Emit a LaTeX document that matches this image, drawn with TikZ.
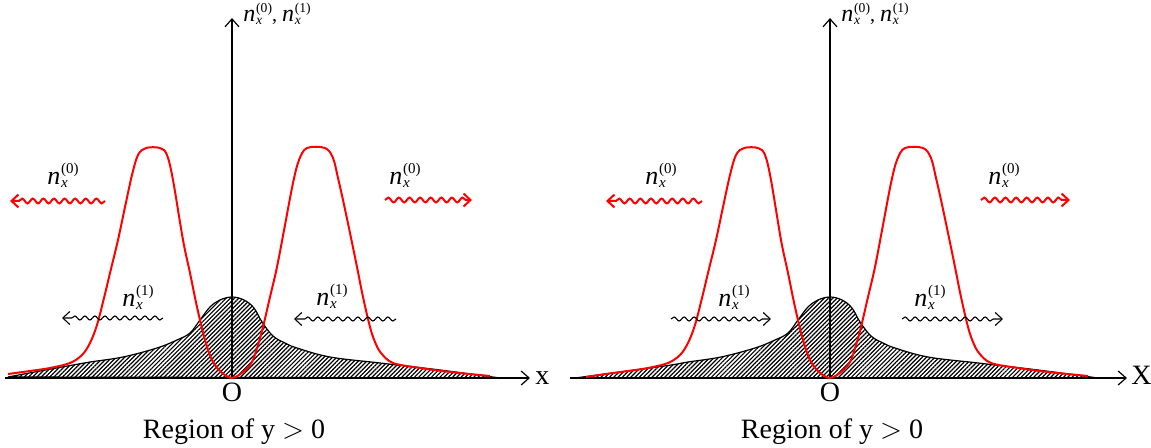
\documentclass[tikz,border=0pt]{standalone}
\usepackage{fontspec}
\setmainfont{Liberation Serif}
\usetikzlibrary{arrows.meta,patterns.meta,decorations.pathmorphing}
\newcommand{\nlabg}[4]{{\fontsize{#1}{#1}\selectfont\textit{n}}\kern0.4pt\makebox[0pt][l]{\raisebox{#3}{\fontsize{#2}{#2}\selectfont(#4)}}\makebox[0pt][l]{\raisebox{-1.2pt}{\fontsize{#2}{#2}\selectfont\textit{x}}}\hphantom{\fontsize{#2}{#2}\selectfont(0)}}
\newcommand{\nlab}[1]{\nlabg{13}{7.5}{5.5pt}{#1}}
\newcommand{\nlabs}[1]{\nlabg{12}{6.8}{4.6pt}{#1}}
\tikzset{
  hump/.style={draw=black, line width=0.6pt, pattern={Lines[angle=45,distance=1.5pt,line width=0.6pt]}, pattern color=black},
  redcurve/.style={draw=red, line width=1pt, line join=round},
  axis/.style={line width=0.6pt, -{Straight Barb[length=4pt,width=7pt]}},
  redwave/.style={draw=red, line width=1pt, decorate, decoration={snake, amplitude=1.2pt, segment length=5.3pt, post length=3pt}, -{Straight Barb[length=3.5pt,width=6.5pt]}},
  blackwave/.style={draw=black, line width=0.55pt, decorate, decoration={snake, amplitude=1pt, segment length=5pt, post length=3pt}, -{Straight Barb[length=3.5pt,width=6.5pt]}},
  lab/.style={anchor=base west, inner sep=0pt},
  txt/.style={font=\fontsize{14}{16}\selectfont, anchor=base, inner sep=0pt}
}
\begin{document}
\begin{tikzpicture}[x=0.5pt,y=-0.5pt]
\useasboundingbox (0,0) rectangle (1151,448);
\fill[white] (0,0) rectangle (1151,448);

% ---------- left panel ----------
\path[hump] plot[smooth, tension=0.6] coordinates {(8,377) (40,371) (73,365) (90,362) (123,357) (157,348) (177,340) (190,333) (200,320) (210,307) (220,300) (232,297) (244,300) (254,308) (262,322) (273,336) (285,343) (297,348) (330,357) (380,363) (440,370) (500,378)} -- cycle;

\coordinate (LxS) at (5,378);
\coordinate (LxE) at (530,378);
\coordinate (LyS) at (232,378);
\coordinate (LyE) at (232,18);
\draw[axis] (LxS) -- (LxE);
\draw[axis] (LyS) -- (LyE);

\draw[redcurve] plot[smooth, tension=0.55] coordinates {(8,374) (30,371) (50,368) (70,363) (82,355) (90,343) (97,325) (104,298) (110,273) (118,240) (125,207) (132,175) (138,155) (146,148) (160,148) (167,155) (173,180) (183,240) (190,273) (197,307) (205,340) (212,360) (221,372) (232,378) (243,372) (252,362) (258,345) (263,327) (270,297) (277,267) (285,225) (293,183) (299,160) (307,148) (325,148) (333,158) (338,178) (343,200) (350,233) (357,267) (363,297) (370,327) (375,342) (381,353) (393,363) (420,368) (450,372) (490,376)};

\coordinate (Lrw1s) at (105,201); \coordinate (Lrw1e) at (10,201);
\draw[redwave] (Lrw1s) -- (Lrw1e);
\coordinate (Lrw2s) at (385,200); \coordinate (Lrw2e) at (472,200);
\draw[redwave] (Lrw2s) -- (Lrw2e);
\coordinate (Lbw1s) at (163,318); \coordinate (Lbw1e) at (62,318);
\draw[blackwave] (Lbw1s) -- (Lbw1e);
\coordinate (Lbw2s) at (396,319); \coordinate (Lbw2e) at (294,319);
\draw[blackwave] (Lbw2s) -- (Lbw2e);

\node[lab] (Ll1) at (47,185) {\nlab{0}};
\node[lab] (Ll2) at (389,185) {\nlab{0}};
\node[lab] (Ll3) at (122,307) {\nlab{1}};
\node[lab] (Ll4) at (316,306) {\nlab{1}};
\node[lab] (Ltop) at (243,22) {\nlabs{0}, \nlabs{1}};
\node[txt, anchor=base west] (Lx) at (535,385) {x};
\node[txt] (LO) at (232,401) {O};
\node[txt] (Lreg) at (234,438) {Region of y \(>\) 0};

% ---------- right panel ----------
\path[hump] plot[smooth, tension=0.6] coordinates {(575,378) (620,372) (671,365) (688,362) (721,357) (755,348) (775,340) (788,333) (798,320) (808,307) (818,300) (830,297) (842,300) (852,308) (860,322) (871,336) (883,343) (895,348) (928,357) (978,363) (1038,370) (1098,378)} -- cycle;

\coordinate (RxS) at (570,378);
\coordinate (RxE) at (1127,378);
\coordinate (RyS) at (830,378);
\coordinate (RyE) at (830,18);
\draw[axis] (RxS) -- (RxE);
\draw[axis] (RyS) -- (RyE);

\begin{scope}[shift={(598,0)}]
\draw[redcurve] plot[smooth, tension=0.55] coordinates {(-12,377) (8,374) (30,371) (50,368) (70,363) (82,355) (90,343) (97,325) (104,298) (110,273) (118,240) (125,207) (132,175) (138,155) (146,148) (160,148) (167,155) (173,180) (183,240) (190,273) (197,307) (205,340) (212,360) (221,372) (232,378) (243,372) (252,362) (258,345) (263,327) (270,297) (277,267) (285,225) (293,183) (299,160) (307,148) (325,148) (333,158) (338,178) (343,200) (350,233) (357,267) (363,297) (370,327) (375,342) (381,353) (393,363) (420,368) (450,372) (490,376)};
\end{scope}

\coordinate (Rrw1s) at (702,201); \coordinate (Rrw1e) at (606,201);
\draw[redwave] (Rrw1s) -- (Rrw1e);
\coordinate (Rrw2s) at (981,200); \coordinate (Rrw2e) at (1070,200);
\draw[redwave] (Rrw2s) -- (Rrw2e);
\coordinate (Rbw1s) at (671,319); \coordinate (Rbw1e) at (771,319);
\draw[blackwave] (Rbw1s) -- (Rbw1e);
\coordinate (Rbw2s) at (902,319); \coordinate (Rbw2e) at (1003,319);
\draw[blackwave] (Rbw2s) -- (Rbw2e);

\node[lab] (Rl1) at (645,185) {\nlab{0}};
\node[lab] (Rl2) at (988,185) {\nlab{0}};
\node[lab] (Rl3) at (718,307) {\nlab{1}};
\node[lab] (Rl4) at (914,307) {\nlab{1}};
\node[lab] (Rtop) at (841,22) {\nlabs{0}, \nlabs{1}};
\node[txt, anchor=base west] (RX) at (1131,385) {X};
\node[txt] (RO) at (830,401) {O};
\node[txt] (Rreg) at (832,438) {Region of y \(>\) 0};
\end{tikzpicture}
\end{document}
